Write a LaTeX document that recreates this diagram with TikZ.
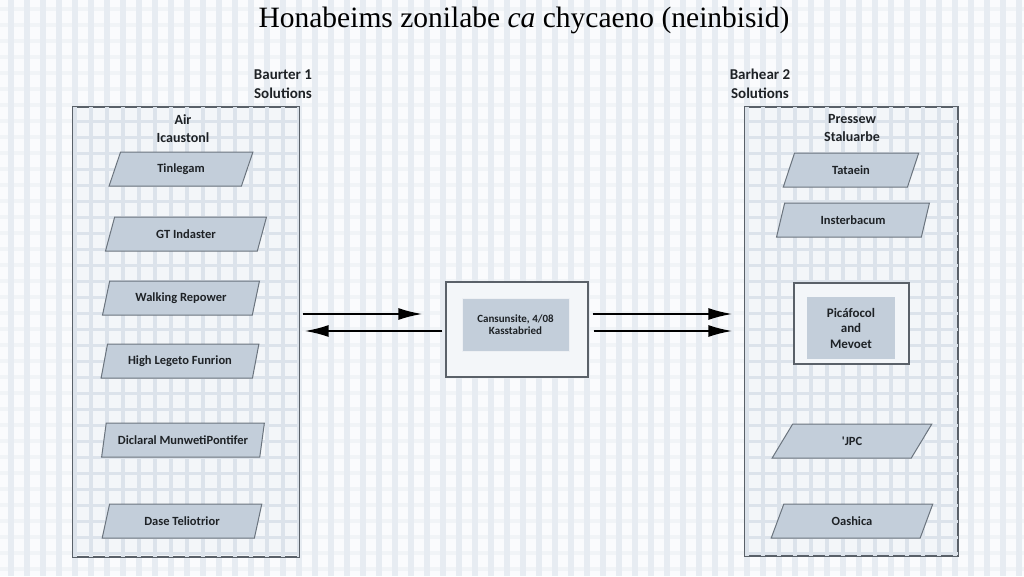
\documentclass[tikz,border=0pt]{standalone}
\usepackage{fontspec}
\setmainfont{Liberation Serif}
\newfontfamily\labfont{Carlito}
\usetikzlibrary{shapes.geometric,arrows.meta}
\definecolor{bgc}{HTML}{FAFBFD}
\definecolor{vstripe}{HTML}{E7ECF2}
\definecolor{hstripe}{HTML}{F1F4F7}
\definecolor{boxfill}{HTML}{F3F6F9}
\definecolor{boxgrid}{HTML}{DCE3EB}
\definecolor{pfill}{HTML}{C3CEDA}
\definecolor{pline}{HTML}{6B747E}
\definecolor{frame}{HTML}{5A6169}
\definecolor{txt}{HTML}{1E2226}
\begin{document}
\begin{tikzpicture}[x=1pt,y=-1pt,
  frm/.style={draw=frame, line width=1.3pt, inner sep=0pt},
  para/.style={trapezium, trapezium left angle=70, trapezium right angle=110,
    trapezium stretches=true, draw=pline, line width=1pt, fill=pfill,
    minimum height=34pt, inner sep=1pt, text=txt,
    font=\labfont\bfseries\fontsize{12.5}{13}\selectfont},
  lab/.style={align=center, text=txt, font=\labfont\bfseries\fontsize{15}{19}\selectfont},
  sublab/.style={align=center, text=txt, font=\labfont\bfseries\fontsize{14}{18}\selectfont},
  arr/.style={draw=black, line width=2pt, -{Latex[length=24pt,width=12pt]}}]
\useasboundingbox (0,0) rectangle (1024,576);
% background
\fill[bgc] (0,0) rectangle (1024,576);
\foreach \y in {9,25,...,576} \fill[hstripe] (0,\y-2) rectangle (1024,\y+2);
\foreach \x in {11,27,...,1024} \fill[vstripe] (\x-3,0) rectangle (\x+3,576);
% title
\node[text=black, font=\fontsize{29.5}{32}\selectfont] (title) at (524,20) {Honabeims zonilabe \textit{ca} chycaeno (neinbisid)};
% main boxes
\node[frm, fill=boxfill, minimum width=226pt, minimum height=450pt] (L) at (186,332) {};
\node[frm, fill=boxfill, minimum width=213pt, minimum height=449pt] (R) at (851.5,331.5) {};
\begin{scope}
  \clip (L.south west) rectangle (L.north east);
  \foreach \x in {11,27,...,300} \fill[boxgrid] (\x-2,0) rectangle (\x+2,576);
  \foreach \y in {9,25,...,576} \fill[boxgrid] (0,\y-1.5) rectangle (1024,\y+1.5);
\end{scope}
\begin{scope}
  \clip (R.south west) rectangle (R.north east);
  \foreach \x in {747,763,...,960} \fill[boxgrid] (\x-2,0) rectangle (\x+2,576);
  \foreach \y in {9,25,...,576} \fill[boxgrid] (0,\y-1.5) rectangle (1024,\y+1.5);
\end{scope}
\draw[frame, line width=1.3pt] (L.south west) rectangle (L.north east);
\draw[frame, line width=1.3pt] (R.south west) rectangle (R.north east);
% headings
\node[lab] (l1) at (283,84) {Baurter 1\\Solutions};
\node[lab] (l2) at (760,84) {Barhear 2\\Solutions};
\node[sublab] (s1) at (183,129) {Air\\Icaustonl};
\node[sublab] (s2) at (852,128) {Pressew\\Staluarbe};
% left parallelograms
\node[para, minimum width=144pt] (p1) at (181,169) {Tinlegam};
\node[para, minimum width=162pt] (p2) at (186,234) {GT Indaster};
\node[para, minimum width=157pt] (p3) at (181,298) {Walking Repower};
\node[para, minimum width=158pt] (p4) at (180,361) {High Legeto Funrion};
\node[para, minimum width=163pt] (p5) at (183,440) {Diclaral MunwetiPontifer};
\node[para, minimum width=160pt] (p6) at (182,521) {Dase Teliotrior};
% right parallelograms
\node[para, minimum width=136pt] (q1) at (851,170) {Tataein};
\node[para, minimum width=154pt] (q2) at (853,220) {Insterbacum};
\node[para, minimum width=160pt] (q3) at (852,441) {'JPC};
\node[para, minimum width=162pt] (q4) at (852,521) {Oashica};
% right inner rect
\node[frm, fill=boxfill, minimum width=115pt, minimum height=81pt] (P) at (851.5,323.5) {};
\node[fill=pfill, inner sep=0pt, minimum width=88pt, minimum height=62pt, align=center, text=txt,
  font=\labfont\bfseries\fontsize{13}{15.5}\selectfont] (Pi) at (851,328) {Picáfocol\\and\\Mevoet};
% center box
\node[frm, fill=boxfill, minimum width=142pt, minimum height=95pt] (C) at (517,329.5) {};
\node[fill=pfill, draw=white!70!pfill, line width=0.8pt, inner sep=0pt, minimum width=107pt, minimum height=53pt,
  align=center, text=txt, font=\labfont\bfseries\fontsize{11}{12}\selectfont] (Ci) at (515.5,324.5) {Cansunsite, 4/08\\Kasstabried};
% arrows
\coordinate (a1) at (0,314);
\coordinate (a2) at (0,331);
\draw[arr, shorten >=23pt, shorten <=3pt] (L.east |- a1) -- (C.west |- a1);
\draw[arr, shorten <=3pt, shorten >=5pt] (C.west |- a2) -- (L.east |- a2);
\draw[arr, shorten <=4pt, shorten >=12pt] (C.east |- a1) -- (R.west |- a1);
\draw[arr, shorten <=5pt, shorten >=12pt] (C.east |- a2) -- (R.west |- a2);
\end{tikzpicture}
\end{document}
